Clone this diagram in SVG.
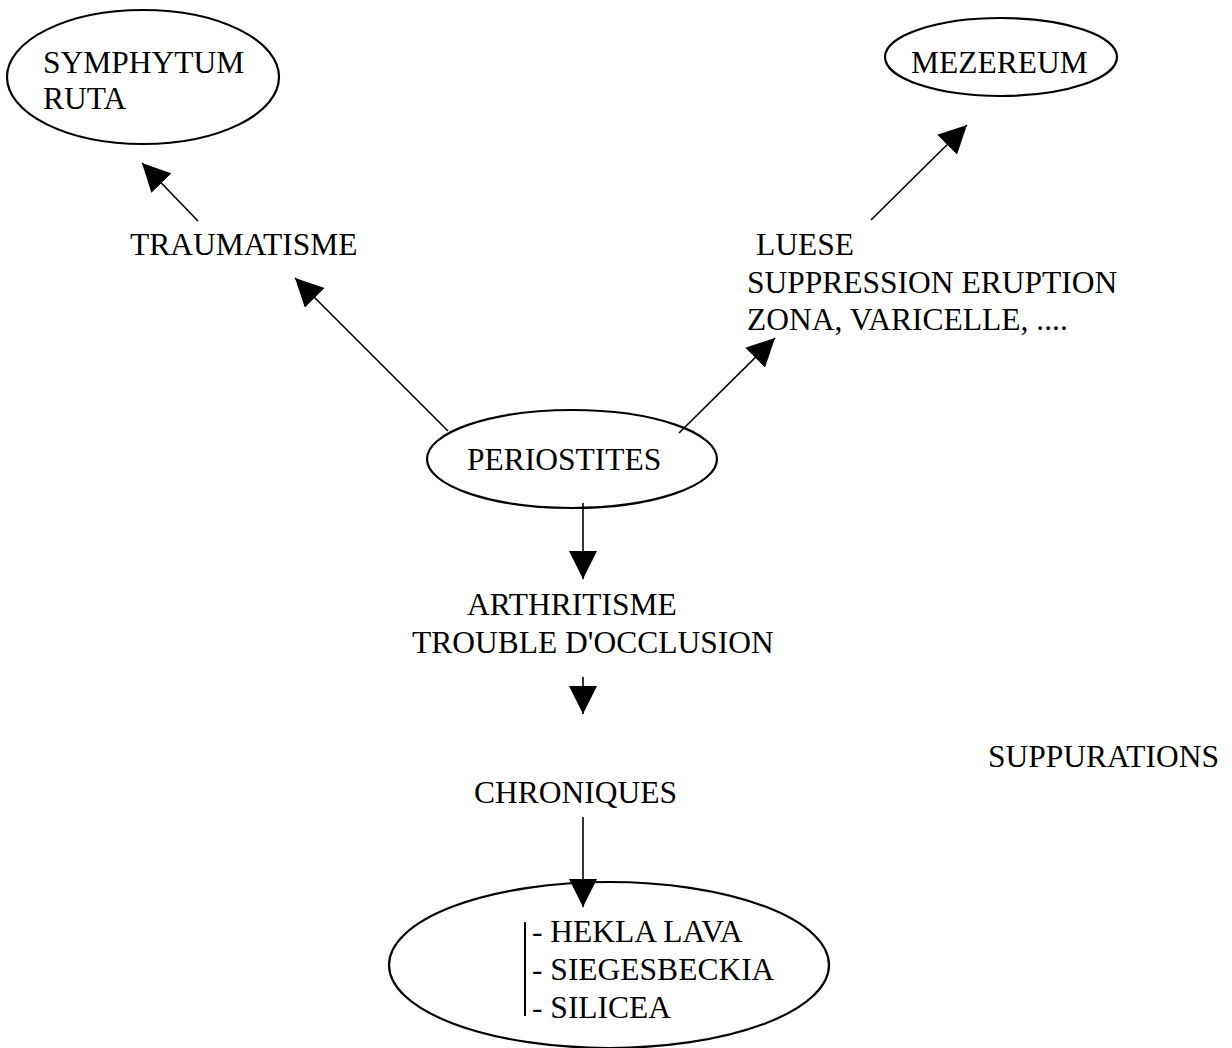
<svg xmlns="http://www.w3.org/2000/svg" width="1232" height="1048" viewBox="0 0 1232 1048">
  <style>
    .node { fill: none; stroke: #000; stroke-width: 2.2; }
    text { font-family: 'Liberation Serif', 'Times New Roman', Times, 'DejaVu Serif', serif; font-size: 31.5px; fill: #000; }
    .edge { stroke: #000; stroke-width: 1.6; fill: none; marker-end: url(#head); }
  </style>
  <defs>
    <marker id="head" markerUnits="userSpaceOnUse" markerWidth="28" markerHeight="28" refX="27" refY="13.5" orient="auto" viewBox="0 0 27 27">
      <path d="M0,0 L27,13.5 L0,27 Z" fill="#000"/>
    </marker>
  </defs>
  <rect width="1232" height="1048" fill="#fff"/>

  <g id="connectors">
    <line class="edge" x1="198" y1="221" x2="142" y2="163"/>
    <line class="edge" x1="448" y1="431" x2="295" y2="278"/>
    <line class="edge" x1="679" y1="433" x2="775" y2="338"/>
    <line class="edge" x1="871" y1="220" x2="967" y2="125"/>
    <line class="edge" x1="583" y1="503" x2="583" y2="579"/>
    <line class="edge" x1="583" y1="677" x2="583" y2="714"/>
    <line class="edge" x1="583" y1="817" x2="583" y2="907"/>
  </g>

  <g id="symphytum">
    <ellipse class="node" cx="143" cy="77" rx="136" ry="67"/>
    <text font-family="Liberation Serif, serif" x="43" y="73">SYMPHYTUM</text>
    <text font-family="Liberation Serif, serif" x="43" y="109">RUTA</text>
  </g>

  <g id="mezereum">
    <ellipse class="node" cx="1001" cy="57" rx="116" ry="39"/>
    <text font-family="Liberation Serif, serif" x="911" y="73">MEZEREUM</text>
  </g>

  <g id="traumatisme">
    <text font-family="Liberation Serif, serif" x="130" y="255">TRAUMATISME</text>
  </g>

  <g id="luese">
    <text font-family="Liberation Serif, serif" x="756" y="255">LUESE</text>
    <text font-family="Liberation Serif, serif" x="747" y="293">SUPPRESSION ERUPTION</text>
    <text font-family="Liberation Serif, serif" x="747" y="330">ZONA, VARICELLE, ....</text>
  </g>

  <g id="periostites">
    <ellipse class="node" cx="572" cy="459" rx="145" ry="49"/>
    <text font-family="Liberation Serif, serif" x="467" y="470">PERIOSTITES</text>
  </g>

  <g id="arthritisme">
    <text font-family="Liberation Serif, serif" x="467" y="615">ARTHRITISME</text>
    <text font-family="Liberation Serif, serif" x="412" y="653">TROUBLE D'OCCLUSION</text>
  </g>

  <g id="chroniques">
    <text font-family="Liberation Serif, serif" x="474" y="803">CHRONIQUES</text>
  </g>

  <g id="suppurations">
    <text font-family="Liberation Serif, serif" x="988" y="767">SUPPURATIONS</text>
  </g>

  <g id="remedes">
    <ellipse class="node" cx="609" cy="965" rx="220" ry="83"/>
    <line x1="525" y1="922" x2="525" y2="1016" stroke="#000" stroke-width="2"/>
    <text font-family="Liberation Serif, serif" x="532" y="942">- HEKLA LAVA</text>
    <text font-family="Liberation Serif, serif" x="532" y="980">- SIEGESBECKIA</text>
    <text font-family="Liberation Serif, serif" x="532" y="1018">- SILICEA</text>
  </g>
</svg>
